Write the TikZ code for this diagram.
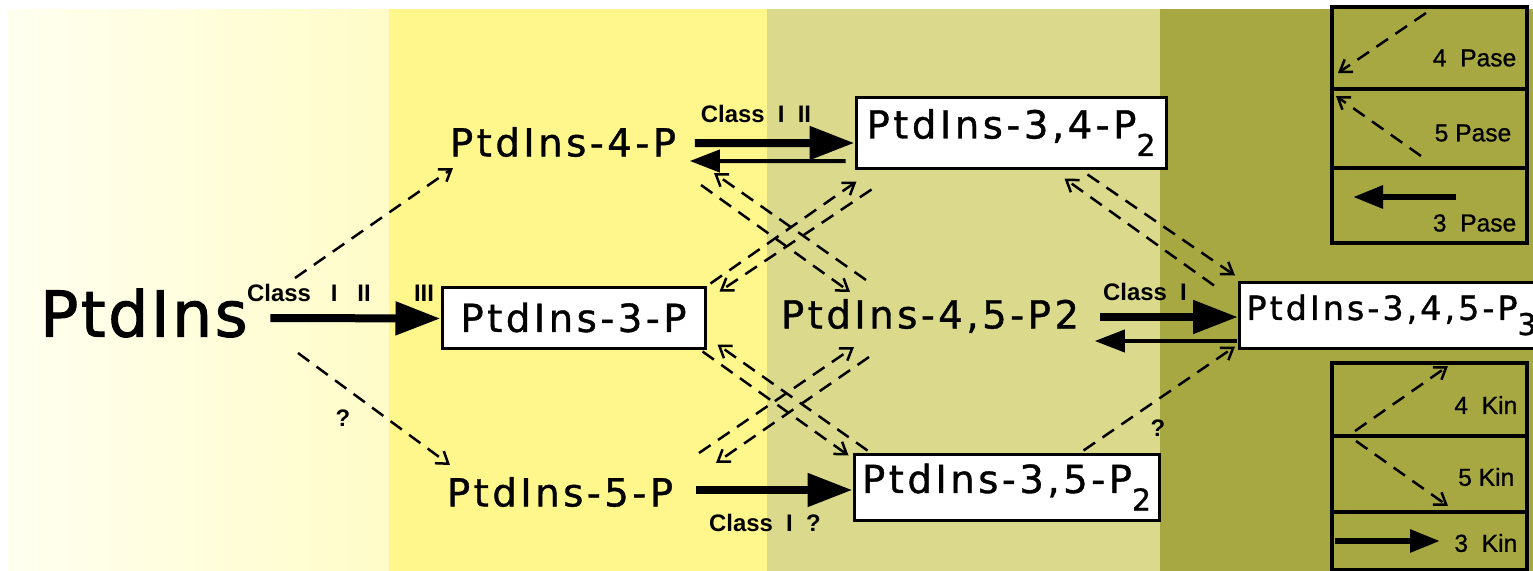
\documentclass[tikz,border=0pt]{standalone}
\usepackage{fontspec}
\usepackage{tikz}
\usetikzlibrary{arrows.meta, calc}
\newfontfamily\molfont[LetterSpace=9, FakeBold=1]{DejaVu Sans}
\newfontfamily\bigfont[LetterSpace=4, FakeBold=1.5]{DejaVu Sans}
\newfontfamily\tagfont{Liberation Sans}
\newfontfamily\legfont[FakeBold=0.8]{Liberation Sans}
\newcommand{\lowsub}[1]{\raisebox{-0.45em}{\fontsize{8.5}{9}\selectfont #1}}
\definecolor{bandwhite}{HTML}{FFFFF0}
\definecolor{bandpale}{HTML}{FFFCC8}
\definecolor{bandyellow}{HTML}{FFF68C}
\definecolor{bandolive}{HTML}{DBDA8C}
\definecolor{banddark}{HTML}{A8A843}

\begin{document}
\begin{tikzpicture}[
    x=0.1mm, y=-0.1mm,
    molbox/.style={draw=black, line width=0.3mm, fill=white, inner sep=0pt,
                   font=\molfont\fontsize{11}{13}\selectfont},
    moltext/.style={inner sep=0pt, font=\molfont\fontsize{11}{13}\selectfont},
    tagtext/.style={inner sep=0pt, font=\tagfont\bfseries\fontsize{6.8}{8}\selectfont},
    legtext/.style={inner sep=0pt, anchor=east, font=\legfont\fontsize{7}{8}\selectfont},
    cellbox/.style={draw=black, line width=0.4mm, minimum width=19.5mm, inner sep=0pt},
    fwdarrow/.style={-{Triangle[length=4.5mm, width=3.2mm]}, line width=0.8mm},
    backarrow/.style={-{Triangle[length=3mm, width=2.2mm]}, line width=0.4mm},
    legarrow/.style={-{Triangle[length=3mm, width=2.2mm]}, line width=0.6mm},
    dasharrow/.style={-{Straight Barb[length=1.1mm, width=1.5mm]}, line width=0.25mm,
                      dash pattern=on 1.4mm off 0.9mm}
  ]
    \useasboundingbox (0,0) rectangle (1533,571);
    \clip (0,0) rectangle (1533,571);

    % Background bands, left to right
    \fill[white] (0,0) rectangle (1533,571);
    \shade[left color=bandwhite, right color=bandpale] (8,9) rectangle (389,571);
    \fill[bandyellow] (389,9) rectangle (767,571);
    \fill[bandolive] (767,9) rectangle (1160,571);
    \fill[banddark] (1160,9) rectangle (1533,571);

    % Lipids
    \node[inner sep=0pt, font=\bigfont\fontsize{18}{20}\selectfont] (pi) at (144,313) {PtdIns};
    \node[moltext] (pi4p) at (563,142) {PtdIns-4-P};
    \node[moltext] (pi5p) at (560,492) {PtdIns-5-P};
    \node[moltext] (pi45) at (930,316) {PtdIns-4,5-P2};
    \node[molbox, minimum width=26.3mm, minimum height=6.1mm] (pi3p) at (573.5,317.5) {PtdIns-3-P};
    \node[molbox, minimum width=31mm, minimum height=7.1mm] (pi34) at (1011,132.5) {PtdIns-3,4-P\lowsub{2}};
    \node[molbox, minimum width=30.5mm, minimum height=6.6mm] (pi35) at (1006.5,487) {PtdIns-3,5-P\lowsub{2}};
    \node[molbox, anchor=west, text width=30mm, inner xsep=0.7mm, align=left, minimum height=6.6mm,
          font=\molfont\fontsize{9.5}{12}\selectfont] (pi345) at (1238,315) {PtdIns-3,4,5-P\lowsub{3}};

    % Class I/II/III kinases (solid)
    \draw[fwdarrow] ($(pi.east)+(22,5)$) -- ($(pi3p.west)+(0,1)$);
    \draw[fwdarrow] ($(pi4p.east)+(18,1)$) -- ($(pi34.west)+(0,10.5)$);
    \draw[backarrow] ($(pi34.west)+(-9,28.5)$) -- ($(pi4p.east)+(13,19)$);
    \draw[fwdarrow] ($(pi45.east)+(20,1)$) -- ($(pi345.west)+(0,2)$);
    \draw[backarrow] ($(pi345.west)+(-1,26)$) -- ($(pi45.east)+(15,25)$);
    \draw[fwdarrow] ($(pi5p.east)+(22,-2)$) -- ($(pi35.west)+(0,3)$);

    \node[tagtext] (cls3p) at (309,293) {Class\ \ \ I\ \ \ II};
    \node[tagtext] (cls3pb) at (424,293) {III};
    \node[tagtext] (cls34) at (756,114) {Class\ \ I\ \ II};
    \node[tagtext] (cls345) at (1145,292) {Class\ \ I};
    \node[tagtext] (cls35) at (765,523) {Class\ \ I\ \ ?};

    % Phosphoinositide kinases and phosphatases (dashed)
    \draw[dasharrow] ($(pi)+(151,-35)$) -- ($(pi4p)+(-110,26)$);
    \draw[dasharrow] ($(pi)+(154,40)$) -- ($(pi5p)+(-110,-27)$);
    \node[tagtext] (q5p) at (343,418) {?};

    \draw[dasharrow] ($(pi4p)+(138,43)$) -- ($(pi45)+(-80,-24)$);
    \draw[dasharrow] ($(pi45)+(-64,-36)$) -- ($(pi4p)+(151,31)$);
    \draw[dasharrow] ($(pi3p.north east)+(4,-2)$) -- ($(pi34.south west)+(2,12)$);
    \draw[dasharrow] ($(pi34.south west)+(17,20)$) -- ($(pi3p.north east)+(13,6)$);
    \draw[dasharrow] ($(pi3p.south east)+(-4,2)$) -- ($(pi35.north west)+(-4,3)$);
    \draw[dasharrow] ($(pi35.north west)+(15,-2)$) -- ($(pi3p.south east)+(11,-5)$);
    \draw[dasharrow] ($(pi5p)+(139,-39)$) -- ($(pi45)+(-76,31)$);
    \draw[dasharrow] ($(pi45)+(-61,41)$) -- ($(pi5p)+(156,-29)$);

    \draw[dasharrow] ($(pi34.south east)+(-80,5)$) -- ($(pi345.north west)+(-3,-5)$);
    \draw[dasharrow] ($(pi345.north west)+(-24,5)$) -- ($(pi34.south east)+(-103,9)$);
    \draw[dasharrow] ($(pi35.north east)+(-77,-2)$) -- ($(pi345.south west)+(-3,-3)$);
    \node[tagtext] (q345) at (1158,428) {?};

    % Legend: phosphatases (top), kinases (bottom)
    \node[cellbox, minimum height=8.2mm] (c4pase) at (1429.5,48) {};
    \node[cellbox, minimum height=7.9mm] (c5pase) at (1429.5,128.5) {};
    \node[cellbox, minimum height=7.5mm] (c3pase) at (1429.5,205.5) {};
    \node[cellbox, minimum height=7.3mm] (c4kin) at (1429.5,399.5) {};
    \node[cellbox, minimum height=7.6mm] (c5kin) at (1429.5,474) {};
    \node[cellbox, minimum height=5.8mm] (c3kin) at (1429.5,541) {};

    \draw[dasharrow] ($(c4pase.north west)+(96,8)$) -- ($(c4pase.north west)+(8,68)$);
    \draw[dasharrow] ($(c5pase.north west)+(91,69)$) -- ($(c5pase.north west)+(6,9)$);
    \draw[legarrow] ($(c3pase.north west)+(126,31)$) -- ($(c3pase.north west)+(23,31)$);
    \draw[dasharrow] ($(c4kin.north west)+(25,70)$) -- ($(c4kin.north west)+(118,5)$);
    \draw[dasharrow] ($(c5kin.north west)+(26,7)$) -- ($(c5kin.north west)+(118,72)$);
    \draw[legarrow] ($(c3kin.north west)+(5,31)$) -- ($(c3kin.north west)+(110,31)$);

    \node[legtext] (l4pase) at (1517,58) {4\ \ Pase};
    \node[legtext] (l5pase) at (1512,133) {5 Pase};
    \node[legtext] (l3pase) at (1517,223) {3\ \ Pase};
    \node[legtext] (l4kin) at (1518,405) {4\ \ Kin};
    \node[legtext] (l5kin) at (1515,477) {5 Kin};
    \node[legtext] (l3kin) at (1518,543) {3\ \ Kin};
  \end{tikzpicture}
\end{document}
